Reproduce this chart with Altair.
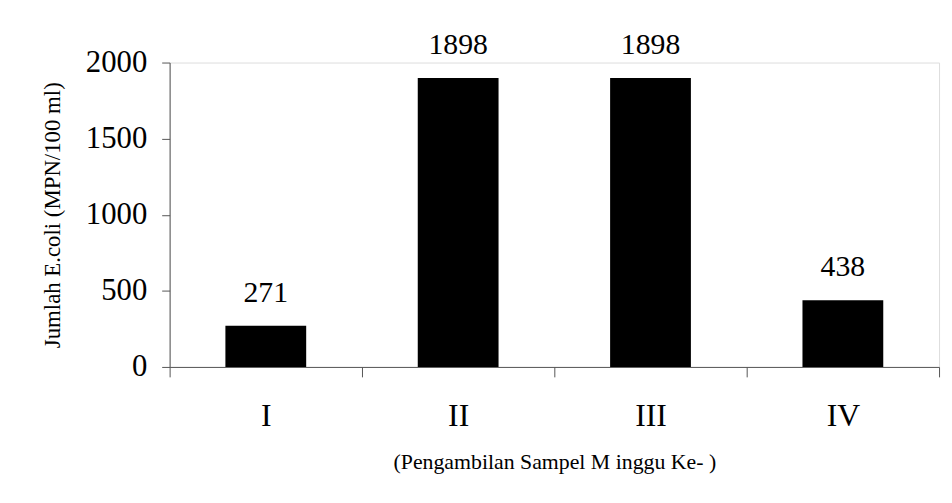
import altair as alt
import pandas as pd

categories = ["I", "II", "III", "IV"]
values = [271, 1898, 1898, 438]
y_ticks = [0, 500, 1000, 1500, 2000]

df = pd.DataFrame({"minggu": categories, "jumlah": values})

FONT = "Liberation Serif"

base = alt.Chart(df)

x_enc = alt.X(
    "minggu:N",
    sort=categories,
    scale=alt.Scale(paddingInner=0, paddingOuter=0),
    axis=alt.Axis(
        title="(Pengambilan Sampel M inggu Ke- )",
        labelAngle=0,
        labelFontSize=32,
        labelFont=FONT,
        labelColor="black",
        labelPadding=24,
        tickBand="extent",
        tickSize=10,
        tickColor="#555",
        domainColor="#555",
        titleFont=FONT,
        titleFontSize=22,
        titleFontWeight="normal",
        titleColor="black",
        titlePadding=20,
        grid=False,
    ),
)

y_enc = alt.Y(
    "jumlah:Q",
    scale=alt.Scale(domain=[0, 2000], nice=False),
    axis=alt.Axis(
        title="Jumlah E.coli (MPN/100 ml)",
        values=y_ticks,
        format="d",
        labelFontSize=31,
        labelFont=FONT,
        labelColor="black",
        labelPadding=15,
        tickSize=8,
        tickColor="#555",
        domainColor="#555",
        titleFont=FONT,
        titleFontSize=23,
        titleFontWeight="normal",
        titleColor="black",
        titlePadding=21,
        grid=False,
    ),
)

bars = base.mark_bar(color="black", width=alt.RelativeBandSize(0.42)).encode(
    x=x_enc, y=y_enc
)

labels = base.mark_text(
    baseline="alphabetic", dy=-24, fontSize=30, font=FONT, color="black"
).encode(
    x=alt.X("minggu:N", sort=categories),
    y=alt.Y("jumlah:Q"),
    text=alt.Text("jumlah:Q", format="d"),
)

chart = (
    alt.layer(bars, labels)
    .properties(
        width=776,
        height=307,
        autosize=alt.AutoSizeParams(type="none"),
        padding={"left": 163, "top": 53, "right": 5, "bottom": 110},
    )
    .configure_view(stroke=None)
    .configure(background="white", font=FONT)
)

chart.save("out.html", embed_options={"renderer": "svg", "actions": False})
